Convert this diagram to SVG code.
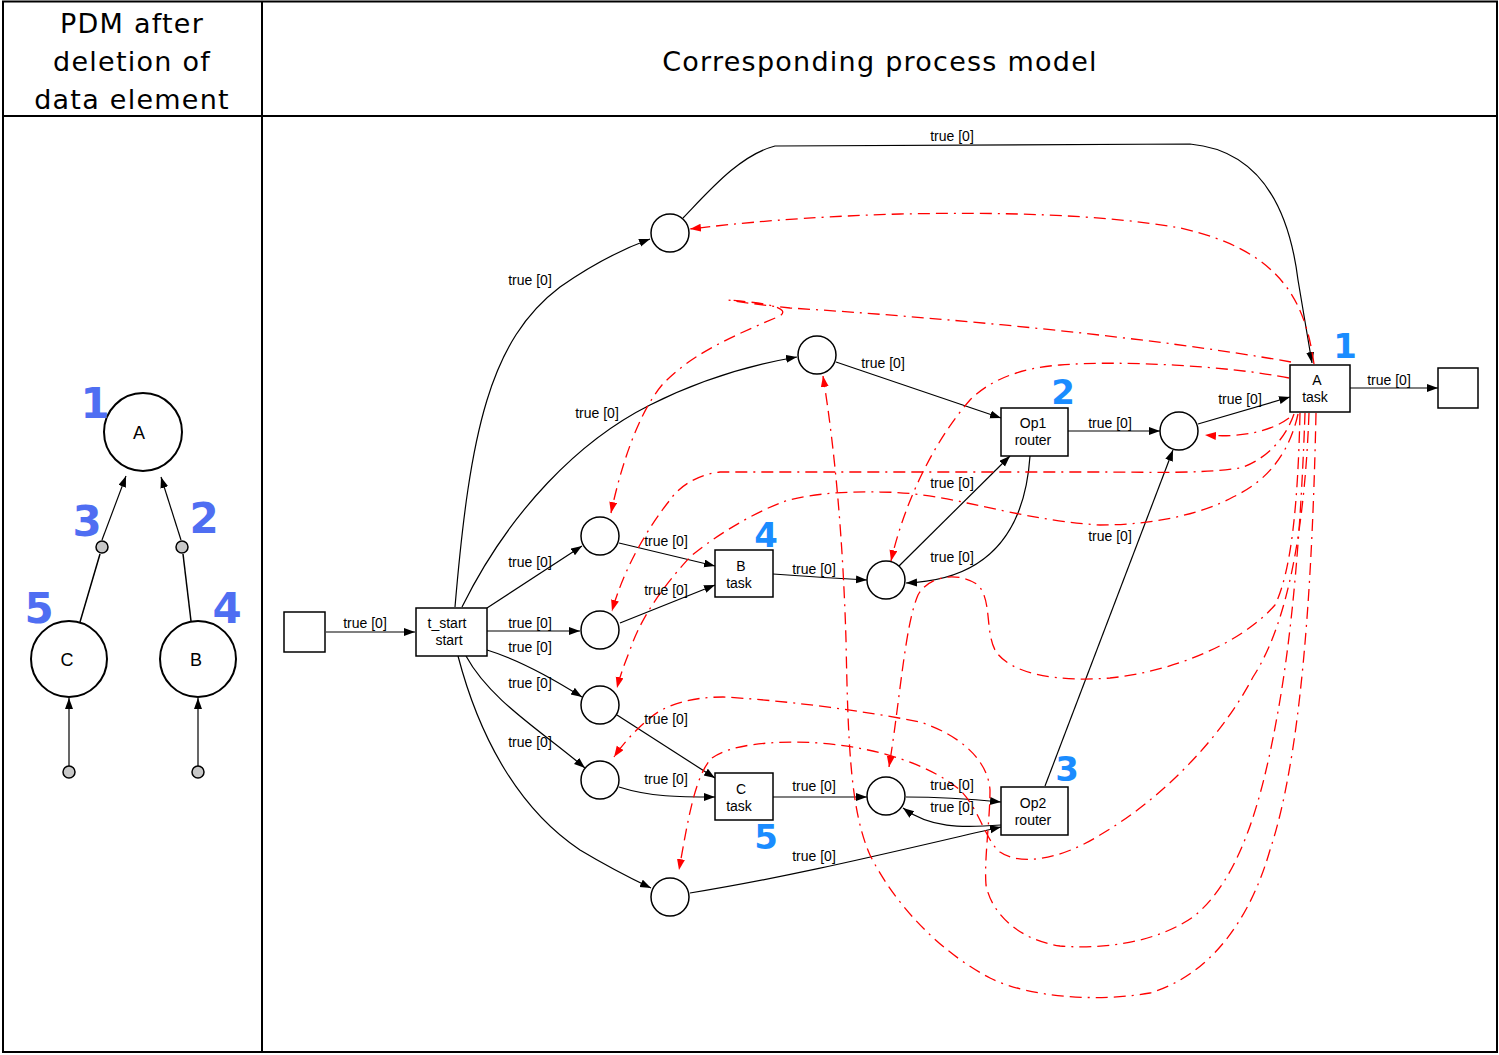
<svg xmlns="http://www.w3.org/2000/svg" width="1499" height="1055" viewBox="0 0 1499 1055">
<style>
.hdr{font-family:"DejaVu Sans",Verdana,sans-serif;font-size:27px;letter-spacing:1.25px;fill:#000;text-anchor:middle}
.lbl{font-family:"Liberation Sans",Arial,sans-serif;font-size:14px;fill:#000;text-anchor:middle}
.ntx{font-family:"Liberation Sans",Arial,sans-serif;font-size:14px;fill:#000;text-anchor:middle}
.ptx{font-family:"Liberation Sans",Arial,sans-serif;font-size:18px;fill:#000;text-anchor:middle}
.num{font-family:"DejaVu Sans",Verdana,sans-serif;font-weight:bold;font-size:34px;fill:#1a8cff;text-anchor:middle}
.pnum{font-family:"DejaVu Sans",Verdana,sans-serif;font-weight:bold;font-size:42px;fill:#4f6ef2;text-anchor:middle}
.node{fill:#fff;stroke:#000;stroke-width:1.5}
.pdm{fill:#fff;stroke:#000;stroke-width:2}
.gray{fill:#c8c8c8;stroke:#000;stroke-width:1.5}
.edge{fill:none;stroke:#000;stroke-width:1.2;marker-end:url(#ah)}
.red{fill:none;stroke:#ff0000;stroke-width:1.3;stroke-dasharray:12 6 12 6 2 6;marker-end:url(#rh)}
.grid{fill:none;stroke:#000;stroke-width:2}
</style>
<defs>
<marker id="ah" markerUnits="userSpaceOnUse" markerWidth="12" markerHeight="10" refX="11" refY="4" orient="auto"><path d="M0,0 L11,4 L0,8 z" fill="#000"/></marker>
<marker id="rh" markerUnits="userSpaceOnUse" markerWidth="12" markerHeight="10" refX="11" refY="4" orient="auto"><path d="M0,0 L11,4 L0,8 z" fill="#ff0000"/></marker>
</defs>
<rect width="1499" height="1055" fill="#fff"/>
<g id="table">
<rect class="grid" x="3" y="1.5" width="1494" height="1050.5"/>
<line class="grid" x1="262" y1="1" x2="262" y2="1053"/>
<line class="grid" x1="3" y1="116" x2="1497" y2="116"/>
<text class="hdr" x="132" y="33">PDM after</text>
<text class="hdr" x="132" y="71">deletion of</text>
<text class="hdr" x="132" y="109">data element</text>
<text class="hdr" x="880" y="71">Corresponding process model</text>
</g>
<g id="pdm">
<g id="pdm-edges">
<line class="edge" x1="102" y1="540" x2="126" y2="476"/>
<line class="edge" x1="181" y1="540" x2="161" y2="477"/>
<line x1="80" y1="622" x2="100" y2="554" stroke="#000" stroke-width="1.5"/>
<line x1="191" y1="621" x2="183" y2="554" stroke="#000" stroke-width="1.5"/>
<line class="edge" x1="69" y1="766" x2="69" y2="698"/>
<line class="edge" x1="198" y1="766" x2="198" y2="698"/>
</g>
<g id="pdm-A"><circle class="pdm" cx="143" cy="432" r="39"/><text class="ptx" x="139" y="439">A</text></g>
<g id="pdm-C"><circle class="pdm" cx="69" cy="659" r="38"/><text class="ptx" x="67" y="666">C</text></g>
<g id="pdm-B"><circle class="pdm" cx="198" cy="659" r="38"/><text class="ptx" x="196" y="666">B</text></g>
<circle class="gray" cx="102" cy="547" r="6"/>
<circle class="gray" cx="182" cy="547" r="6"/>
<circle class="gray" cx="69" cy="772" r="6"/>
<circle class="gray" cx="198" cy="772" r="6"/>
<text class="pnum" x="95" y="418">1</text>
<text class="pnum" x="87" y="536">3</text>
<text class="pnum" x="204" y="533">2</text>
<text class="pnum" x="39" y="623">5</text>
<text class="pnum" x="227" y="623">4</text>
</g>
<g id="connectors">
<line class="edge" x1="326" y1="632" x2="415" y2="632"/>
<path class="edge" d="M455,607 C470,430 490,340 560,287 C590,266 620,250 650,239"/>
<path class="edge" d="M462,607 C510,510 580,440 650,405 C700,380 750,365 797,357"/>
<path class="edge" d="M487,608 L582,546"/>
<line class="edge" x1="487" y1="631" x2="580" y2="631"/>
<path class="edge" d="M487,650 C520,660 555,680 582,697"/>
<path class="edge" d="M466,656 C490,700 540,730 585,768"/>
<path class="edge" d="M458,656 C480,740 520,810 580,850 C610,868 630,878 651,888"/>
<path class="edge" d="M683,218 C710,190 740,155 775,146 L1190,144 C1255,150 1288,200 1298,280 L1312,363"/>
<line class="edge" x1="836" y1="362" x2="1001" y2="418"/>
<line class="edge" x1="619" y1="543" x2="715" y2="566"/>
<line class="edge" x1="620" y1="623" x2="715" y2="585"/>
<path class="edge" d="M773,574 C800,576 830,578 867,580"/>
<line class="edge" x1="899" y1="566" x2="1010" y2="456"/>
<path class="edge" d="M1030,456 C1025,530 990,580 906,583"/>
<line class="edge" x1="1068" y1="431" x2="1160" y2="431"/>
<line class="edge" x1="1198" y1="424" x2="1290" y2="397"/>
<line class="edge" x1="1350" y1="388" x2="1438" y2="388"/>
<line class="edge" x1="1045" y1="786" x2="1173" y2="450"/>
<line class="edge" x1="617" y1="715" x2="715" y2="778"/>
<path class="edge" d="M619,787 C650,797 680,797 715,797"/>
<line class="edge" x1="773" y1="797" x2="867" y2="797"/>
<path class="edge" d="M906,797 C940,797 970,799 1001,802"/>
<path class="edge" d="M1001,825 C960,828 930,828 903,808"/>
<path class="edge" d="M690,893 C800,875 900,850 1001,827"/>
<path class="red" d="M1314,364 C1305,300 1280,250 1180,228 C1100,214 1000,212 900,214 C800,217 740,223 690,229"/>
<path class="red" d="M1291,362 C1150,337 950,318 790,308 C760,305 740,302 728,300 Q795,305 780,316 C730,337 690,355 662,385 C637,415 620,470 611,513"/>
<path class="red" d="M1289,378 C1230,366 1120,360 1060,365 C1020,368 990,380 970,400 C935,440 905,500 891,561"/>
<path class="red" d="M1294,414 C1285,440 1265,460 1240,468 C1200,474 1150,472 1100,472 L720,472 C700,474 680,485 670,500 C650,525 625,565 612,611"/>
<path class="red" d="M1298,414 C1290,450 1270,480 1233,497 C1200,515 1150,525 1100,525 C1050,522 1000,510 967,503 C940,497 910,492 880,492 C840,491 800,495 780,503 C745,517 710,540 690,557 C660,590 640,620 630,650 C622,670 619,680 617,688"/>
<path class="red" d="M1305,413 C1302,500 1295,620 1277,717 C1262,800 1240,880 1193,917 C1160,940 1110,950 1060,946 C1020,940 992,915 986,885 C984,860 990,820 990,790 C988,760 960,735 920,722 C860,710 780,700 723,697 C690,697 665,705 650,718 C635,730 622,745 614,757"/>
<path class="red" d="M1300,413 C1298,500 1292,570 1275,605 C1240,645 1170,672 1110,678 C1060,682 1010,675 995,650 C985,630 992,600 978,585 C960,572 930,574 918,595 C905,625 900,700 889,767"/>
<path class="red" d="M1309,413 C1305,520 1290,620 1253,677 C1220,740 1160,800 1100,835 C1060,860 1020,866 1000,852 C985,840 980,810 960,790 C930,765 880,748 820,743 C770,740 730,745 712,758 C695,775 688,820 679,870"/>
<path class="red" d="M1316,413 C1312,600 1300,760 1270,850 C1250,920 1210,975 1150,993 C1100,1002 1030,998 990,978 C940,952 895,905 870,855 C850,810 848,740 846,640 C843,540 835,450 823,376"/>
<path class="red" d="M1289,418 C1270,432 1240,438 1205,435"/>
</g>
<g id="labels">
<text class="lbl" x="365" y="628">true [0]</text>
<text class="lbl" x="530" y="285">true [0]</text>
<text class="lbl" x="597" y="418">true [0]</text>
<text class="lbl" x="530" y="567">true [0]</text>
<text class="lbl" x="530" y="628">true [0]</text>
<text class="lbl" x="530" y="652">true [0]</text>
<text class="lbl" x="530" y="688">true [0]</text>
<text class="lbl" x="530" y="747">true [0]</text>
<text class="lbl" x="952" y="141">true [0]</text>
<text class="lbl" x="883" y="368">true [0]</text>
<text class="lbl" x="666" y="546">true [0]</text>
<text class="lbl" x="666" y="595">true [0]</text>
<text class="lbl" x="814" y="574">true [0]</text>
<text class="lbl" x="952" y="488">true [0]</text>
<text class="lbl" x="952" y="562">true [0]</text>
<text class="lbl" x="1110" y="428">true [0]</text>
<text class="lbl" x="1240" y="404">true [0]</text>
<text class="lbl" x="1389" y="385">true [0]</text>
<text class="lbl" x="1110" y="541">true [0]</text>
<text class="lbl" x="666" y="724">true [0]</text>
<text class="lbl" x="666" y="784">true [0]</text>
<text class="lbl" x="814" y="791">true [0]</text>
<text class="lbl" x="952" y="790">true [0]</text>
<text class="lbl" x="952" y="812">true [0]</text>
<text class="lbl" x="814" y="861">true [0]</text>
</g>
<g id="start"><rect class="node" x="284" y="612" width="41" height="40"/></g>
<g id="t_start"><rect class="node" x="416" y="608" width="71" height="48"/><text class="ntx" x="447" y="628">t_start</text><text class="ntx" x="449" y="645">start</text></g>
<g id="p1"><circle class="node" cx="670" cy="233" r="19"/></g>
<g id="p2"><circle class="node" cx="817" cy="355" r="19"/></g>
<g id="p3"><circle class="node" cx="600" cy="536" r="19"/></g>
<g id="p4"><circle class="node" cx="600" cy="630" r="19"/></g>
<g id="p5"><circle class="node" cx="600" cy="705" r="19"/></g>
<g id="p6"><circle class="node" cx="600" cy="780" r="19"/></g>
<g id="p7"><circle class="node" cx="670" cy="897" r="19"/></g>
<g id="p8"><circle class="node" cx="886" cy="580" r="19"/></g>
<g id="p9"><circle class="node" cx="886" cy="796" r="19"/></g>
<g id="p10"><circle class="node" cx="1179" cy="431" r="19"/></g>
<g id="B_task"><rect class="node" x="715" y="550" width="58" height="47"/><text class="ntx" x="741" y="571">B</text><text class="ntx" x="739" y="588">task</text></g>
<g id="C_task"><rect class="node" x="715" y="773" width="58" height="47"/><text class="ntx" x="741" y="794">C</text><text class="ntx" x="739" y="811">task</text></g>
<g id="Op1_router"><rect class="node" x="1001" y="408" width="67" height="48"/><text class="ntx" x="1033" y="428">Op1</text><text class="ntx" x="1033" y="445">router</text></g>
<g id="Op2_router"><rect class="node" x="1001" y="787" width="67" height="48"/><text class="ntx" x="1033" y="808">Op2</text><text class="ntx" x="1033" y="825">router</text></g>
<g id="A_task"><rect class="node" x="1290" y="365" width="60" height="47"/><text class="ntx" x="1317" y="385">A</text><text class="ntx" x="1315" y="402">task</text></g>
<g id="end"><rect class="node" x="1438" y="368" width="40" height="40"/></g>
<g id="numbers">
<text class="num" x="1345" y="358">1</text>
<text class="num" x="1063" y="404">2</text>
<text class="num" x="1067" y="781">3</text>
<text class="num" x="766" y="547">4</text>
<text class="num" x="766" y="849">5</text>
</g>
</svg>
